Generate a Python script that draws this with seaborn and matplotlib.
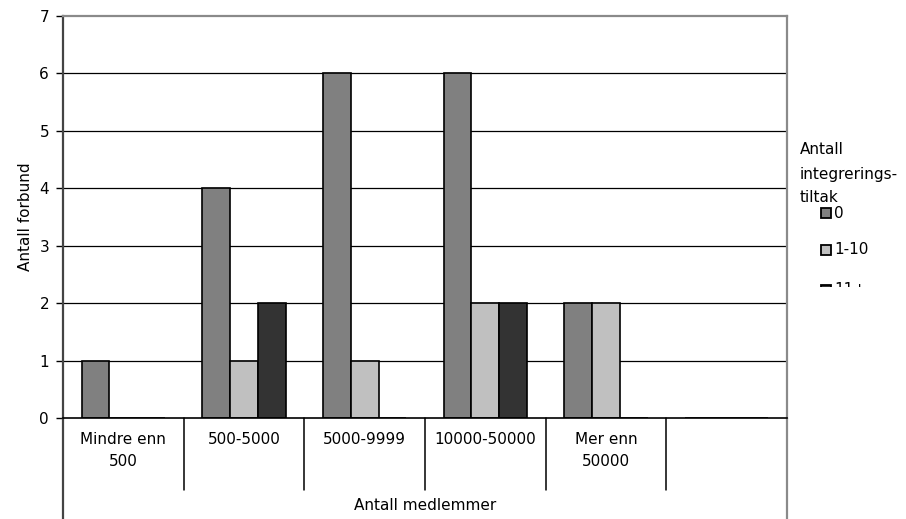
import matplotlib
matplotlib.use("Agg")
import matplotlib.pyplot as plt
import seaborn as sns
import pandas as pd
from matplotlib.patches import Rectangle

# ---- data ----
categories = ["Mindre enn\n500", "500-5000", "5000-9999", "10000-50000", "Mer enn\n50000", ""]
series = ["0", "1-10", "11+"]
values_0 = [1, 4, 6, 6, 2, 0]
values_1_10 = [0, 1, 1, 2, 2, 0]
values_11 = [0, 2, 0, 2, 0, 0]
colors = ["#808080", "#c0c0c0", "#333333"]
y_ticks = [0, 1, 2, 3, 4, 5, 6, 7]
x_title = "Antall medlemmer"
y_title = "Antall forbund"
legend_title = ["Antall", "integrerings-", "tiltak"]

rows = []
for s, vals in zip(series, [values_0, values_1_10, values_11]):
    for c, v in zip(categories, vals):
        rows.append({"cat": c, "series": s, "val": v})
df = pd.DataFrame(rows)

sns.set_style("white")
plt.rcParams["font.family"] = ["DejaVu Sans"]
plt.rcParams["text.color"] = "black"
plt.rcParams["axes.labelcolor"] = "black"
plt.rcParams["ytick.color"] = "black"
plt.rcParams["ytick.labelcolor"] = "black"
FS = 11

W, H = 906, 519
fig = plt.figure(figsize=(W / 100, H / 100), dpi=100)
L, R, T, B = 63, 787, 16, 418
ax = fig.add_axes([L / W, 1 - B / H, (R - L) / W, (B - T) / H])

sns.barplot(data=df, x="cat", y="val", hue="series", order=categories,
            hue_order=series, palette=colors, width=0.69, gap=0,
            edgecolor="black", linewidth=1.2, legend=False, ax=ax, zorder=3)

ax.set_xlim(-0.5, len(categories) - 0.5)
ax.set_ylim(0, 7)
ax.set_yticks(y_ticks)
ax.set_yticklabels([str(t) for t in y_ticks], fontsize=FS, color="black")
ax.tick_params(axis="y", direction="out", length=5, width=1, color="black", pad=5, left=True)
ax.set_xticks([])
ax.set_xlabel("")
for y in y_ticks[1:-1]:
    ax.axhline(y, color="black", lw=0.9, zorder=1)

for side in ["top", "right"]:
    ax.spines[side].set_color("#8a8a8a")
    ax.spines[side].set_linewidth(1.6)
ax.spines["left"].set_color("#444444")
ax.spines["left"].set_linewidth(1.6)
ax.spines["bottom"].set_color("black")
ax.spines["bottom"].set_linewidth(1.2)
ax.spines["bottom"].set_zorder(5)

ax.set_ylabel(y_title, fontsize=FS, color="black")
ax.yaxis.set_label_coords((26 - L) / (R - L), 0.5)
ax.yaxis.label.set_verticalalignment("center")

# multi-level category axis
trans = ax.get_xaxis_transform()
hgt = B - T
def yfrac(py):
    return (B - py) / hgt
for i in range(len(categories) + 1):
    xb = i - 0.5
    if i == 0 or i == len(categories):
        y_end = yfrac(H + 2)
        col = "#444444" if i == 0 else "#8a8a8a"
    else:
        y_end = yfrac(490)
        col = "black"
    ax.plot([xb, xb], [0, y_end], transform=trans, color=col, lw=1.1 if 0 < i < len(categories) else 1.6,
            clip_on=False, zorder=4)
for i, c in enumerate(categories):
    ax.text(i, yfrac(432), c, transform=trans, ha="center", va="top",
            fontsize=FS, linespacing=1.55, color="black")
ax.text((len(categories) - 1) / 2, yfrac(506), x_title, transform=trans,
        ha="center", va="center", fontsize=FS, color="black")

# legend (manual, clipped at bottom as in reference)
def fy(py):
    return 1 - py / H
for txt, py in zip(legend_title, [150, 175, 198]):
    fig.text(800 / W, fy(py), txt, ha="left", va="center", fontsize=FS, color="black")
entry_y = [213, 250, 290]
for s, col, py in zip(series, colors, entry_y):
    fig.patches.append(Rectangle(((821) / W, fy(py + 5)), 10 / W, 10 / H,
                                 transform=fig.transFigure, facecolor=col,
                                 edgecolor="black", lw=1.3, zorder=5))
    fig.text(834 / W, fy(py), s, ha="left", va="center", fontsize=FS, zorder=5, color="black")
fig.patches.append(Rectangle((795 / W, 0), (W - 795) / W, fy(286.5), transform=fig.transFigure,
                             facecolor="white", edgecolor="none", zorder=20))

fig.savefig("out.png", dpi=100)
